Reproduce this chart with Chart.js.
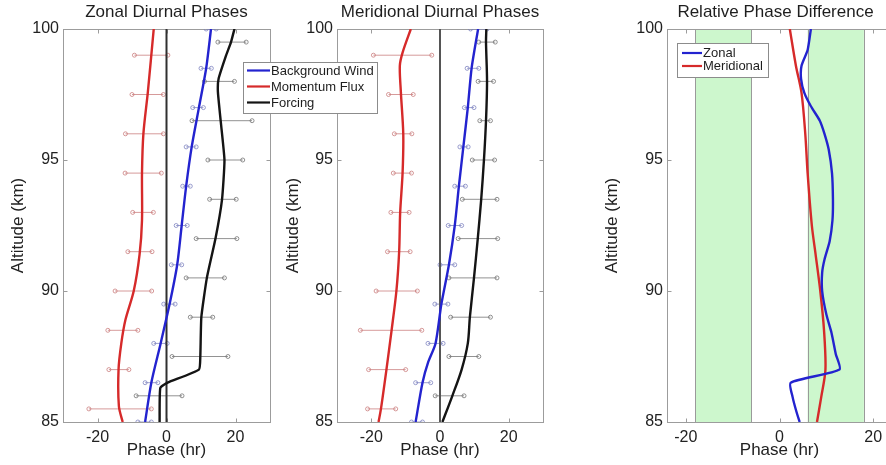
<!DOCTYPE html>
<html>
<head>
<meta charset="utf-8">
<script src="https://cdn.jsdelivr.net/npm/chart.js@4/dist/chart.umd.min.js"></script>
<style>
html,body{margin:0;padding:0;background:#fff;overflow:hidden;width:886px;height:465px;position:relative;}
canvas{position:absolute;top:0;}
</style>
</head>
<body>
<canvas id="c2" width="295" height="465" style="left:275px;z-index:1"></canvas>
<canvas id="c1" width="400" height="465" style="left:0px;z-index:2"></canvas>
<canvas id="c3" width="306" height="465" style="left:594px;z-index:1"></canvas>
<script>
// ---------- tick labels ----------
const xTicks = [-20, 0, 20];
const yTicks = [85, 90, 95, 100];

// ---------- Zonal diurnal phases ----------
const zBgAlt   = [85, 86.5, 88, 89.5, 91, 92.5, 94, 95.5, 97, 98.5, 100];
const zBgPhase = [-6.2, -4.4, -1.7, 0.9, 3.1, 4.4, 5.7, 7.3, 9.4, 11.5, 12.9];
const zMfAlt   = [85, 85.6, 87, 88, 88.9, 90, 91.4, 92.7, 94.5, 96, 97.6, 100];
const zMfPhase = [-12.7, -13.8, -13.9, -13.1, -11.9, -9.5, -7.8, -7.1, -7.1, -6.7, -5.4, -3.7];
const zFoAlt   = [85, 86.3, 86.5, 87.0, 87.5, 89, 90.5, 92, 93.5, 95, 96.5, 97.6, 98.1, 99, 99.5, 100];
const zFoPhase = [-2.0, -1.8, 0.3, 9.4, 9.8, 10.1, 11.7, 14.2, 16.1, 16.8, 15.7, 14.9, 15.1, 17.3, 18.7, 19.7];

const errBlueAlt  = [85, 86.5, 88, 89.5, 91, 92.5, 94, 95.5, 97, 98.5, 100];
const errRedAlt   = [85.5, 87, 88.5, 90, 91.5, 93, 94.5, 96, 97.5, 99];
const errBlackAlt = [86, 87.5, 89, 90.5, 92, 93.5, 95, 96.5, 98, 99.5];

const zBgLo = [-8.3, -6.2, -3.7, -0.8, 1.4, 2.8, 4.7, 5.7, 7.6, 10.0, 11.5];
const zBgHi = [-4.4, -2.5, 0.2, 2.5, 4.4, 6.0, 6.9, 8.6, 10.7, 13.0, 14.4];
const zMfLo = [-22.5, -16.7, -17.0, -14.9, -11.2, -9.8, -12.0, -11.9, -10.0, -9.3];
const zMfHi = [-4.4, -10.9, -8.3, -4.3, -4.2, -3.8, -1.5, -0.9, -0.9, 0.4];
const zFoLo = [-8.8, 1.6, 6.9, 5.7, 8.6, 12.5, 12.0, 7.4, 11.0, 14.9];
const zFoHi = [4.5, 17.8, 13.4, 16.8, 20.4, 20.2, 22.1, 24.8, 19.7, 23.1];

// ---------- Meridional diurnal phases ----------
const mBgAlt   = [85, 86.5, 87.3, 88, 89.5, 91, 92.5, 94, 95.5, 97, 98.5, 100];
const mBgPhase = [-7.1, -5.1, -3.4, -1.3, 0.4, 2.6, 4.3, 5.5, 6.8, 8.1, 9.2, 11.1];
const mMfAlt   = [85, 85.5, 87, 88.5, 90, 91.5, 93, 94.5, 96, 97.6, 98.6, 99.1, 100];
const mMfPhase = [-17.9, -17.2, -15.6, -14.1, -12.7, -11.9, -11.6, -10.9, -10.7, -11.4, -11.7, -10.9, -8.5];
const mFoAlt   = [85, 86, 87, 88, 89, 90.5, 92, 93.5, 95, 96.5, 98, 99.5, 100];
const mFoPhase = [0.7, 3.6, 6.3, 8.1, 8.7, 9.9, 11.0, 12.0, 12.8, 13.4, 13.7, 13.4, 13.5];

const mBgLo = [-8.3, -7.1, -3.5, -1.5, 0.0, 2.4, 4.3, 5.8, 7.1, 7.9, 8.9];
const mBgHi = [-5.1, -2.7, 0.9, 2.3, 4.3, 6.3, 7.4, 8.2, 9.9, 11.3, 13.7];
const mMfLo = [-21.1, -20.8, -23.2, -18.6, -15.3, -14.3, -13.6, -13.3, -15.0, -19.4];
const mMfHi = [-12.9, -10.0, -5.3, -6.6, -8.7, -9.0, -8.3, -8.2, -7.8, -2.4];
const mFoLo = [-1.4, 2.6, 3.1, 2.6, 5.3, 6.5, 9.4, 11.6, 11.1, 11.3];
const mFoHi = [7.0, 11.3, 14.7, 16.6, 16.8, 16.6, 15.9, 14.7, 15.6, 16.1];

// ---------- Relative phase difference ----------
const dZAlt   = [85, 85.4, 85.95, 86.5, 87.0, 87.6, 88.4, 89.1, 90, 90.7, 91.2, 91.9, 92.7, 93.5, 94.5, 95.4, 96, 96.5, 97.05, 97.56, 98.1, 98.6, 99.2, 100];
const dZPhase = [4.3, 3.6, 2.8, 2.4, 12.8, 12.0, 11.1, 10.0, 9.1, 9.1, 9.6, 10.7, 11.3, 11.4, 11.2, 10.5, 9.6, 8.6, 6.7, 5.3, 4.6, 4.7, 6.0, 6.7];
const dMAlt   = [85, 85.95, 87, 88.5, 90, 91.4, 92.5, 94.5, 96, 97.56, 98.6, 100];
const dMPhase = [8.0, 8.9, 9.8, 9.5, 8.7, 7.7, 6.9, 6.0, 5.5, 4.7, 3.5, 2.2];
const bandRanges = [[-18, -6], [6, 18]];

// ---------- helpers ----------
const FONT = 'Liberation Sans, Arial, Helvetica, sans-serif';
const BLUE = '#2323cf', RED = '#d62a2a', BLACK = '#141414';
const pts = (xs, ys) => xs.map((x, i) => ({x: x, y: ys[i]}));

function curve(label, xs, ys, color, tension) {
  return {label: label, data: pts(xs, ys), showLine: true, borderColor: color, backgroundColor: color,
          borderWidth: 2.4, pointRadius: 0, tension: tension, fill: false};
}
function vline(x, color, w) {
  return {label: '', data: [{x: x, y: 85}, {x: x, y: 100}], showLine: true, borderColor: color,
          borderWidth: w, pointRadius: 0, tension: 0};
}
function errBars(alts, lo, hi, color) {
  return alts.map((a, i) => ({
    label: '', data: [{x: lo[i], y: a}, {x: hi[i], y: a}], showLine: true,
    borderColor: color, borderWidth: 1, pointRadius: 2, pointBorderWidth: 1,
    pointBorderColor: color, pointBackgroundColor: 'rgba(255,255,255,0)', tension: 0
  }));
}

const deco = {
  id: 'deco',
  beforeDatasetsDraw(chart, args, opts) {
    const ctx = chart.ctx, a = chart.chartArea, xs = chart.scales.x, ys = chart.scales.y;
    ctx.save();
    (opts.bands || []).forEach(b => {
      const x0 = xs.getPixelForValue(b[0]), x1 = xs.getPixelForValue(b[1]);
      ctx.fillStyle = '#cdf7cd';
      ctx.fillRect(x0, a.top, x1 - x0, a.bottom - a.top);
      ctx.strokeStyle = '#9a9a9a'; ctx.lineWidth = 1;
      ctx.beginPath();
      ctx.moveTo(Math.round(x0) + 0.5, a.top); ctx.lineTo(Math.round(x0) + 0.5, a.bottom);
      ctx.moveTo(Math.round(x1) + 0.5, a.top); ctx.lineTo(Math.round(x1) + 0.5, a.bottom);
      ctx.stroke();
    });
    ctx.strokeStyle = '#9c9c9c'; ctx.lineWidth = 1;
    const L = Math.round(a.left) + 0.5, R = Math.round(a.right) + 0.5, T = Math.round(a.top) + 0.5, B = Math.round(a.bottom) + 0.5;
    ctx.strokeRect(L, T, R - L, B - T);
    ctx.beginPath();
    xs.ticks.forEach(t => {
      const p = Math.round(xs.getPixelForValue(t.value)) + 0.5;
      ctx.moveTo(p, B); ctx.lineTo(p, B - 4);
      ctx.moveTo(p, T); ctx.lineTo(p, T + 4);
    });
    ys.ticks.forEach(t => {
      const p = Math.round(ys.getPixelForValue(t.value)) + 0.5;
      ctx.moveTo(L, p); ctx.lineTo(L + 4, p);
      ctx.moveTo(R, p); ctx.lineTo(R - 4, p);
    });
    ctx.stroke();
    ctx.restore();
  },
  afterDraw(chart, args, opts) {
    const ctx = chart.ctx, a = chart.chartArea;
    ctx.save();
    ctx.fillStyle = '#1e1e1e';
    ctx.font = '17px ' + FONT;
    ctx.textAlign = 'center'; ctx.textBaseline = 'middle';
    ctx.fillText(opts.title, (a.left + a.right) / 2 + (opts.titleDx || 0), 12);
    const lg = opts.legend;
    if (lg) {
      const x = a.left + lg.dx, y = a.top + lg.dy;
      ctx.fillStyle = '#fff';
      ctx.fillRect(x, y, lg.w, lg.h);
      ctx.strokeStyle = '#8c8c8c'; ctx.lineWidth = 1;
      ctx.strokeRect(Math.round(x) + 0.5, Math.round(y) + 0.5, lg.w, lg.h);
      ctx.font = '13px ' + FONT; ctx.textAlign = 'left'; ctx.textBaseline = 'middle';
      lg.items.forEach((di, k) => {
        const ds = chart.data.datasets[di];
        const yy = y + lg.row0 + k * lg.rowH;
        ctx.strokeStyle = ds.borderColor; ctx.lineWidth = 2.2;
        ctx.beginPath(); ctx.moveTo(x + lg.l0, yy); ctx.lineTo(x + lg.l1, yy); ctx.stroke();
        ctx.fillStyle = '#1e1e1e';
        ctx.fillText(ds.label, x + lg.l1 + 1, yy + 0.5);
      });
    }
    ctx.restore();
  }
};

function options(cfg) {
  const tickFont = {family: FONT, size: 16};
  const titleFont = {family: FONT, size: 17};
  return {
    responsive: false, animation: false, events: [],
    layout: {padding: {top: 29, right: cfg.padRight, left: 0, bottom: 0}},
    plugins: {legend: {display: false}, tooltip: {enabled: false},
              deco: {title: cfg.title, legend: cfg.legend, bands: cfg.bands, titleDx: cfg.titleDx}},
    scales: {
      x: {type: 'linear', min: cfg.xmin, max: cfg.xmax,
          afterBuildTicks: s => { s.ticks = xTicks.map(v => ({value: v})); },
          afterFit: s => { s.height = 43; },
          grid: {display: false, drawTicks: false}, border: {display: false},
          ticks: {font: tickFont, color: '#222', padding: 6, maxRotation: 0},
          title: {display: true, text: 'Phase (hr)', font: titleFont, color: '#222', padding: {top: 0, bottom: 4}}},
      y: {type: 'linear', min: 85, max: 100,
          afterBuildTicks: s => { s.ticks = yTicks.map(v => ({value: v})); },
          afterFit: s => { s.width = cfg.yw; },
          grid: {display: false, drawTicks: false}, border: {display: false},
          ticks: {font: tickFont, color: '#222', padding: 4},
          title: {display: true, text: 'Altitude (km)', font: titleFont, color: '#222', padding: {top: 8, bottom: 0}}}
    }
  };
}

const ERR_BLUE = 'rgba(120,125,190,0.75)', ERR_RED = 'rgba(200,120,120,0.75)', ERR_BLACK = 'rgba(110,110,110,0.75)';

// Panel 1
new Chart(document.getElementById('c1'), {
  type: 'scatter',
  data: {datasets: [
    curve('Background Wind', zBgPhase, zBgAlt, BLUE, 0.25),
    curve('Momentum Flux', zMfPhase, zMfAlt, RED, 0.3),
    curve('Forcing', zFoPhase, zFoAlt, BLACK, 0.15),
    vline(0, '#303030', 2),
    ...errBars(errBlueAlt, zBgLo, zBgHi, ERR_BLUE),
    ...errBars(errRedAlt, zMfLo, zMfHi, ERR_RED),
    ...errBars(errBlackAlt, zFoLo, zFoHi, ERR_BLACK)
  ]},
  options: options({title: 'Zonal Diurnal Phases', xmin: -30, xmax: 30, yw: 63, padRight: 130,
    legend: {dx: 180, dy: 33, w: 134, h: 51, row0: 8.5, rowH: 16, l0: 4, l1: 27, items: [0, 1, 2]}}),
  plugins: [deco]
});

// Panel 2
new Chart(document.getElementById('c2'), {
  type: 'scatter',
  data: {datasets: [
    curve('Background Wind', mBgPhase, mBgAlt, BLUE, 0.25),
    curve('Momentum Flux', mMfPhase, mMfAlt, RED, 0.3),
    curve('Forcing', mFoPhase, mFoAlt, BLACK, 0.3),
    vline(0, '#555', 2),
    ...errBars(errBlueAlt, mBgLo, mBgHi, ERR_BLUE),
    ...errBars(errRedAlt, mMfLo, mMfHi, ERR_RED),
    ...errBars(errBlackAlt, mFoLo, mFoHi, ERR_BLACK)
  ]},
  options: options({title: 'Meridional Diurnal Phases', xmin: -30, xmax: 30, yw: 62, padRight: 27}),
  plugins: [deco]
});

// Panel 3
new Chart(document.getElementById('c3'), {
  type: 'scatter',
  data: {datasets: [
    curve('Zonal', dZPhase, dZAlt, BLUE, 0.2),
    curve('Meridional', dMPhase, dMAlt, RED, 0.3)
  ]},
  options: options({title: 'Relative Phase Difference', xmin: -24, xmax: 24, yw: 73, padRight: 8, titleDx: -4,
    bands: bandRanges,
    legend: {dx: 10, dy: 14, w: 91, h: 34, row0: 10, rowH: 13, l0: 5, l1: 25, items: [0, 1]}}),
  plugins: [deco]
});
</script>
</body>
</html>
